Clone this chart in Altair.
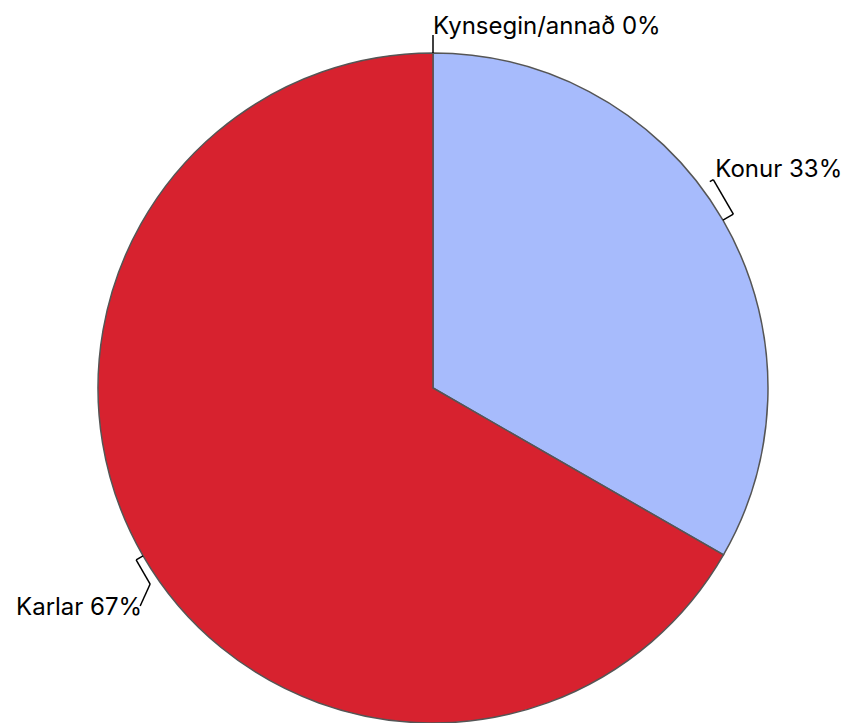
import altair as alt
import pandas as pd

categories = ["Kynsegin/annað", "Konur", "Karlar"]
values = [0, 33.3, 66.7]
labels = ["Kynsegin/annað 0%", "Konur 33%", "Karlar 67%"]
colors = ["#9a9a9a", "#a7bbfc", "#d7222f"]

df = pd.DataFrame({"category": categories, "value": values, "label": labels, "order": [0, 1, 2]})

CX, CY, R = 425, 380, 335

color = alt.Color("category:N", scale=alt.Scale(domain=categories, range=colors), legend=None)

pie = alt.Chart(df).mark_arc(outerRadius=R, stroke="#555555", strokeWidth=1.5).encode(
    theta=alt.Theta("value:Q", stack=True),
    order=alt.Order("order:Q"),
    color=color,
    x=alt.value(CX),
    y=alt.value(CY),
)

geo = alt.Chart(df).transform_joinaggregate(
    total="sum(value)"
).transform_window(
    cum="sum(value)", sort=[alt.SortField("order")]
).transform_calculate(
    mid="2*PI*(datum.cum - datum.value/2)/datum.total",
    rout=f"datum.value == 0 ? {R + 18} : (sin(2*PI*(datum.cum - datum.value/2)/datum.total) >= 0 ? {R + 12} : {R + 8})",
    tl="datum.value == 0 ? 0 : (sin(2*PI*(datum.cum - datum.value/2)/datum.total) >= 0 ? 40 : 28)",
).transform_calculate(
    x0=f"{CX} + {R}*sin(datum.mid)",
    y0=f"{CY} - {R}*cos(datum.mid)",
    x1=f"{CX} + datum.rout*sin(datum.mid)",
    y1=f"{CY} - datum.rout*cos(datum.mid)",
).transform_calculate(
    x2="datum.x1 - datum.tl*cos(datum.mid)",
    y2="datum.y1 - datum.tl*sin(datum.mid)",
).transform_calculate(
    x3="datum.value == 0 ? datum.x2 : (sin(datum.mid) >= 0 ? datum.x2 - 4*sin(datum.mid) : datum.x2 - 10)",
    y3="datum.value == 0 ? datum.y2 : (sin(datum.mid) >= 0 ? datum.y2 + 4*cos(datum.mid) : datum.y2 + 22)",
    lx="datum.value == 0 ? datum.x1 : (sin(datum.mid) >= 0 ? datum.x2 + 2 : datum.x2 - 8)",
    ly="datum.value == 0 ? datum.y1 - 1 : (sin(datum.mid) >= 0 ? datum.y2 - 3 : datum.y2 + 31)",
    side="sin(datum.mid) >= -0.001 ? 'r' : 'l'",
)

seg1 = geo.mark_rule(color="black", strokeWidth=1.5).encode(
    x=alt.X("x0:Q", scale=None), y=alt.Y("y0:Q", scale=None),
    x2="x1:Q", y2="y1:Q",
)
seg2 = geo.mark_rule(color="black", strokeWidth=1.5).encode(
    x=alt.X("x1:Q", scale=None), y=alt.Y("y1:Q", scale=None),
    x2="x2:Q", y2="y2:Q",
)
seg3 = geo.mark_rule(color="black", strokeWidth=1.5).encode(
    x=alt.X("x2:Q", scale=None), y=alt.Y("y2:Q", scale=None),
    x2="x3:Q", y2="y3:Q",
)

txt_r = geo.transform_filter("datum.side == 'r'").mark_text(
    align="left", baseline="alphabetic", font="Inter", fontSize=24, color="black"
).encode(
    x=alt.X("lx:Q", scale=None), y=alt.Y("ly:Q", scale=None), text="label:N"
)
txt_l = geo.transform_filter("datum.side == 'l'").mark_text(
    align="right", baseline="alphabetic", font="Inter", fontSize=24, color="black"
).encode(
    x=alt.X("lx:Q", scale=None), y=alt.Y("ly:Q", scale=None), text="label:N"
)

chart = alt.layer(pie, seg1, seg2, seg3, txt_r, txt_l).properties(
    width=834, height=715, autosize="none", padding=0
).configure_view(stroke=None)

chart.save("out.html", embed_options={"renderer": "svg", "actions": False})
